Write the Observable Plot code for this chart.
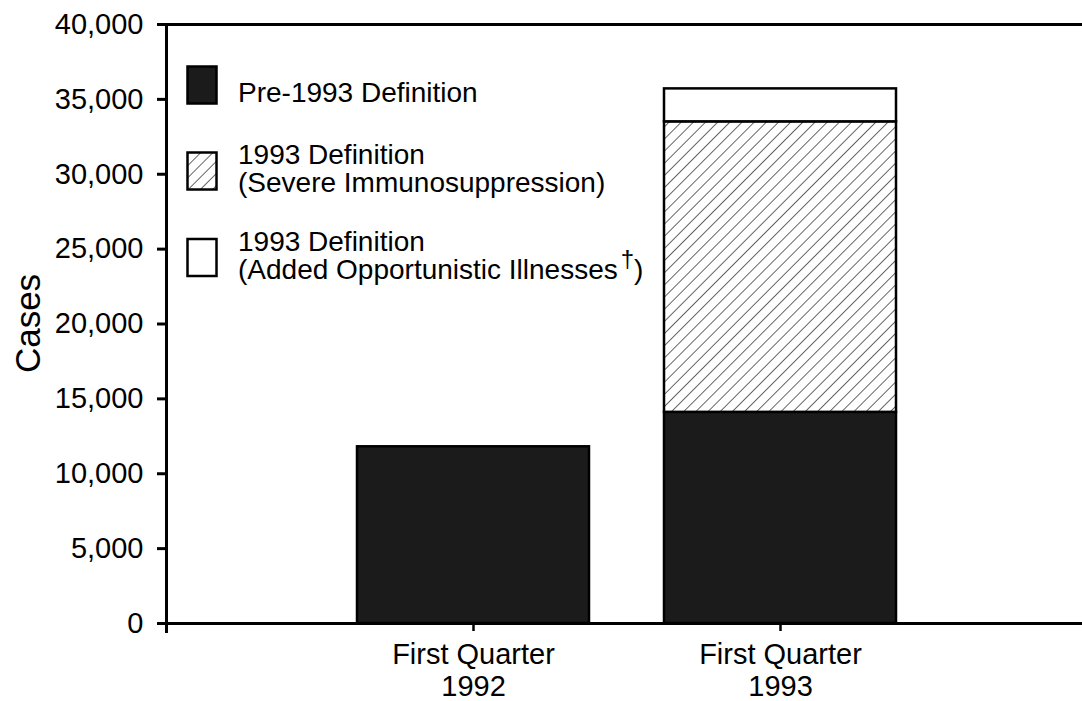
<!DOCTYPE html>
<html><head><meta charset="utf-8">
<script src="https://cdn.jsdelivr.net/npm/d3@7"></script>
<script src="https://cdn.jsdelivr.net/npm/@observablehq/plot@0.6"></script>
<style>
body{margin:0;background:#fff;}
#chart{width:1082px;height:701px;}
</style>
</head><body><div id="chart"></div>
<script>
// ---- data ----
const quarters = ["1992", "1993"];
const quarterPrefix = "First Quarter";
const definitions = ["pre", "severe", "added"];
const pre1993 = [11800, 14100];
const severe = [0, 19400];
const added = [0, 2200];
const yTicks = [0, 5000, 10000, 15000, 20000, 25000, 30000, 35000, 40000];
const yLabel = "Cases";
const legendItems = [
  {key: "pre", lines: ["Pre-1993 Definition"]},
  {key: "severe", lines: ["1993 Definition", "(Severe Immunosuppression)"]},
  {key: "added", lines: ["1993 Definition", "(Added Opportunistic Illnesses"], sup: "†", tail: ")"}
];
const fills = ["#1b1b1b", "url(#hatch)", "#ffffff"];

const rows = [];
quarters.forEach((q, i) => {
  [pre1993[i], severe[i], added[i]].forEach((v, j) => {
    if (v > 0) rows.push({quarter: q, def: definitions[j], value: v});
  });
});

const font = "'Liberation Sans', Arial, Helvetica, sans-serif";

function legendMark(index, scales, values, dims) {
  const g = d3.create("svg:g").attr("text-anchor", "start");
  const defs = g.append("defs");
  const p = defs.append("pattern").attr("id", "hatch")
    .attr("patternUnits", "userSpaceOnUse")
    .attr("width", 8.6).attr("height", 8.6)
    .attr("patternTransform", "rotate(45)");
  p.append("rect").attr("width", 8.6).attr("height", 8.6).attr("fill", "#fff");
  p.append("line").attr("x1", 0).attr("y1", 0).attr("x2", 0).attr("y2", 8.6)
    .attr("stroke", "#000").attr("stroke-width", 1.2);

  const swTop = [66.5, 152.5, 239];
  const baselines = [[102], [164, 192], [251, 279]];
  legendItems.forEach((it, i) => {
    g.append("rect").attr("x", 187.5).attr("y", swTop[i]).attr("width", 29).attr("height", 37)
      .attr("fill", fills[definitions.indexOf(it.key)]).attr("stroke", "#000").attr("stroke-width", 2.5);
    it.lines.forEach((ln, k) => {
      const t = g.append("text").attr("x", 238).attr("y", baselines[i][k])
        .attr("text-anchor", "start")
        .attr("font-size", 28).attr("font-family", font).attr("fill", "#000");
      t.append("tspan").text(ln);
      if (k === it.lines.length - 1 && it.sup) {
        t.append("tspan").attr("dy", -12).attr("dx", 3).attr("font-size", 24).text(it.sup);
        t.append("tspan").attr("dy", 12).text(it.tail);
      }
    });
  });
  // y-axis title
  const midY = (24 + 623) / 2;
  g.append("text").attr("text-anchor", "middle").attr("dominant-baseline", "central")
    .attr("transform", `translate(27,${midY}) rotate(-90)`)
    .attr("font-size", 35).attr("font-family", font).attr("fill", "#000").text(yLabel);
  return g.node();
}

const chart = Plot.plot({
  width: 1082,
  height: 701,
  marginLeft: 166,
  marginRight: 0,
  marginTop: 24,
  marginBottom: 78,
  style: {fontFamily: font, background: "#fff", color: "#000"},
  x: {domain: quarters, range: [319.5, 933.5], paddingInner: 0.244, paddingOuter: 0.122, label: null},
  y: {domain: [0, 40000], label: null},
  color: {domain: definitions, range: fills},
  marks: [
    Plot.barY(rows, Plot.stackY({x: "quarter", y: "value", fill: "def", stroke: "#000", strokeWidth: 2.5})),
    Plot.frame({anchor: "top", strokeWidth: 3}),
    Plot.frame({anchor: "bottom", strokeWidth: 3}),
    Plot.frame({anchor: "left", strokeWidth: 3, insetBottom: -8}),
    Plot.axisY({ticks: yTicks, tickFormat: d3.format(","), tickSize: 9, tickPadding: 14,
      fontSize: 29, strokeWidth: 3, label: null}),
    Plot.axisX({tickFormat: d => quarterPrefix + "\n" + d, tickSize: 8, tickPadding: 10,
      fontSize: 29, lineHeight: 1.1, strokeWidth: 2.5, label: null}),
    legendMark
  ]
});
document.getElementById("chart").appendChild(chart);
</script>
</body></html>
